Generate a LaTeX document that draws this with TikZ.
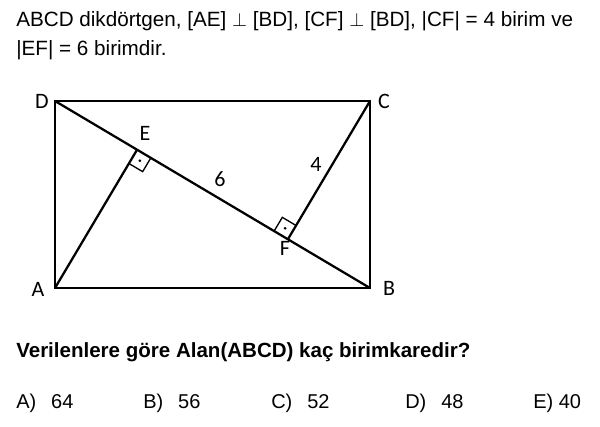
\documentclass[tikz,border=0pt]{standalone}
\usepackage{fontspec}
\setmainfont{Liberation Sans}
\newfontfamily\figfont{Carlito}
\usetikzlibrary{calc}

\begin{document}
\begin{tikzpicture}[
    x=0.75pt, y=-0.75pt,
    edge/.style={line width=1.7pt, line join=miter},
    lbl/.style={font=\figfont\fontsize{16.5}{19}\selectfont, inner sep=0pt},
    txt/.style={font=\fontsize{15.5}{18}\selectfont, anchor=base west, inner sep=0pt},
    choice/.style={font=\fontsize{15}{18}\selectfont, anchor=base west, inner sep=0pt},
    ask/.style={font=\fontsize{15.4}{18}\selectfont\bfseries, anchor=base west, inner sep=0pt},
    rightmark/.style={line width=1pt},
    dotmark/.style={fill=black, draw=none}
  ]
    \useasboundingbox (0,0) rectangle (600,426);

    % statement
    \node[txt] (line1) at (16,26) {ABCD dikdörtgen, [AE] $\perp$ [BD], [CF] $\perp$ [BD], |CF| = 4 birim ve};
    \node[txt] (line2) at (16,55) {|EF| = 6 birimdir.};

    % rectangle corners and feet
    \coordinate (A) at (55,288);
    \coordinate (B) at (370,288);
    \coordinate (C) at (370,101);
    \coordinate (D) at (55,101);
    \coordinate (E) at ($(D)!(A)!(B)$);
    \coordinate (F) at ($(D)!(C)!(B)$);

    \draw[edge] (A) -- (B) -- (C) -- (D) -- cycle;
    \draw[edge] (D) -- (B);
    \draw[edge] (A) -- (E);
    \draw[edge] (C) -- (F);

    % right angle marks
    \coordinate (e1) at ($(E)!12pt!(B)$);
    \coordinate (e2) at ($(E)!12pt!(A)$);
    \draw[rightmark] (e1) -- ($(e1)+(e2)-(E)$) -- (e2);
    \fill[dotmark] ($(e1)!0.5!(e2)$) circle (1.1pt);
    \coordinate (f1) at ($(F)!12pt!(D)$);
    \coordinate (f2) at ($(F)!12pt!(C)$);
    \draw[rightmark] (f1) -- ($(f1)+(f2)-(F)$) -- (f2);
    \fill[dotmark] ($(f1)!0.5!(f2)$) circle (1.1pt);

    % labels
    \node[lbl] (la) at (38,289) {A};
    \node[lbl] (lb) at (389,288) {B};
    \node[lbl] (lc) at (384,101) {C};
    \node[lbl] (ld) at (42,101) {D};
    \node[lbl] (le) at (145,133) {E};
    \node[lbl] (lf) at (285,248) {F};
    \node[lbl] (l6) at (220,179) {6};
    \node[lbl] (l4) at (316,164) {4};

    % question and choices
    \node[ask] (question) at (16,357) {Verilenlere göre Alan(ABCD) kaç birimkaredir?};
    \node[choice] (optA) at (16,408) {A)\hspace{7pt} 64};
    \node[choice] (optB) at (143,408) {B)\hspace{7pt} 56};
    \node[choice] (optC) at (271,408) {C)\hspace{7pt} 52};
    \node[choice] (optD) at (405,408) {D)\hspace{7pt} 48};
    \node[choice] (optE) at (533,408) {E) 40};
\end{tikzpicture}
\end{document}
